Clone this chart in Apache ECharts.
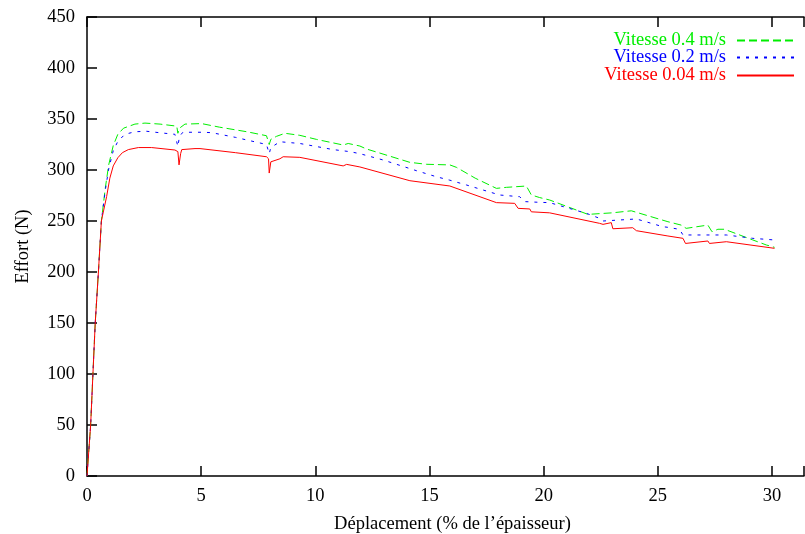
<!DOCTYPE html>
<html>
<head>
<meta charset="utf-8">
<script src="https://cdn.jsdelivr.net/npm/echarts@6/dist/echarts.min.js"></script>
<style>html,body{margin:0;padding:0;background:#fff;}#c{width:805px;height:534px;}</style>
</head>
<body>
<div id="c"></div>
<script>
// ---- data ----
const names = ['Vitesse 0.4 m/s', 'Vitesse 0.2 m/s', 'Vitesse 0.04 m/s'];
const xTicks = [0, 5, 10, 15, 20, 25, 30];
const yTicks = [0, 50, 100, 150, 200, 250, 300, 350, 400, 450];

const greenX = [0,0.16,0.26,0.36,0.5,0.63,0.8,0.95,1.15,1.35,1.6,2.1,2.54,3.2,3.93,3.98,4.05,4.29,5.02,5.8,7.0,7.86,7.98,8.05,8.3,8.67,9.32,10.05,11.22,11.44,11.95,12.24,13.2,14.14,14.87,15.89,16.18,17.0,17.93,18.37,19.24,19.46,19.82,20.26,21.94,23.0,23.84,25.08,25.44,26.02,26.24,27.19,27.37,27.63,27.92,29.16,29.75,30.11];
const greenY = [0,50,100,150,200,250,282,305,324,335,341,345,346,345,343,336,341,345,345.5,342,337.5,333.6,325,330,333,336,334,330,324.5,326,323.5,320.6,314,307.5,305.6,305,302.6,292,282,283,284.3,275.5,273,270.6,256.5,258,260,251.7,249.3,246,242.8,246,239.5,241.9,241.9,231.4,226.5,224.2];

const blueX = [0,0.16,0.26,0.36,0.5,0.63,0.8,0.95,1.15,1.35,1.66,2.1,2.6,3.2,3.85,3.98,4.05,4.2,5.09,5.46,6.5,7.86,7.98,8.05,8.45,9.32,10.78,11.51,11.95,12.97,14.43,15.3,15.89,16.62,18.07,18.95,19.17,19.82,20.26,21.87,22.45,22.6,24.06,25.22,25.44,25.95,26.1,27.26,28,29.16,30.11];
const blueY = [0,50,100,150,200,250,280,301,319,328,335,337.5,338,336.5,335,323,333,337,337,336.6,332,325,316,322,327.7,326,320,318,316,309.8,299.3,293.4,290,285.3,275.5,273.8,269,268.3,268,257.5,252.6,250,252,244.4,243.8,241.8,236.3,236.3,236.3,233,231.4];

const redX = [0,0.16,0.26,0.36,0.5,0.63,0.86,1.0,1.15,1.35,1.55,1.81,2.25,2.83,3.85,3.98,4.03,4.1,4.15,4.73,4.95,6.5,7.86,7.95,7.98,8.05,8.45,8.59,9.32,11.22,11.37,11.95,14.14,15.89,17.93,18.73,18.88,19.39,19.46,20.26,22.45,22.6,22.96,23.03,23.9,24.06,25.44,26.1,26.21,27.19,27.26,28,30.11];
const redY = [0,50,100,150,200,250,274,292,304,312,317,320,322,322,319.6,318,305,316,320,321,321,317,313,311,297,308,311,313,312.4,304,305.5,303,289.5,284.3,268,267.3,262.4,261.8,259,258,247.7,246.7,248.4,242.4,243.4,240.5,235.3,233,228,230.4,228,229.7,223.2];

const colors = ['#00ee00', '#0000ff', '#ff0000'];

// ---- chart ----
const zip = (a, b) => a.map((v, i) => [v, b[i]]);
const FONT = "'Liberation Serif', 'Times New Roman', serif";
const FS = 18.5;
const chart = echarts.init(document.getElementById('c'), null, {renderer: 'canvas'});

function legendFor(i, top) {
  return {
    data: [{name: names[i], textStyle: {color: colors[i]}}],
    right: 10, top: top, orient: 'vertical', align: 'right',
    itemWidth: 57, itemHeight: 10, itemGap: 0, padding: 0,
    itemStyle: {color: 'transparent', borderWidth: 0, opacity: 0},
    textStyle: {fontFamily: FONT, fontSize: FS, padding: [0, 6, 0, 0]},
    selectedMode: false
  };
}

const xMax = 31.4;
chart.setOption({
  animation: false,
  backgroundColor: '#fff',
  textStyle: {fontFamily: FONT},
  grid: {left: 87, right: 1, top: 17, bottom: 58, containLabel: false, outerBoundsMode: 'none'},
  legend: [legendFor(0, 31), legendFor(1, 48), legendFor(2, 66)],
  xAxis: [{
    type: 'value', min: 0, max: xMax, interval: 5,
    name: 'Déplacement (% de l’épaisseur)', nameLocation: 'middle', nameGap: 39,
    nameTextStyle: {fontFamily: FONT, fontSize: FS, color: '#000', padding: [0, 0, 0, 14]},
    axisLine: {show: true, lineStyle: {color: '#000', width: 1.5}},
    axisTick: {show: true, inside: true, length: 10, lineStyle: {color: '#000', width: 1.5}},
    axisLabel: {fontFamily: FONT, fontSize: FS, color: '#000', margin: 11,
      formatter: v => xTicks.indexOf(v) >= 0 ? String(v) : ''},
    splitLine: {show: false}
  }, {
    type: 'value', position: 'top', min: 0, max: xMax, interval: 5,
    axisLine: {show: true, onZero: false, lineStyle: {color: '#000', width: 1.5}},
    axisTick: {show: true, inside: true, length: 10, lineStyle: {color: '#000', width: 1.5}},
    axisLabel: {show: false},
    splitLine: {show: false}
  }],
  yAxis: {
    type: 'value', min: 0, max: 450, interval: 50,
    name: 'Effort (N)', nameLocation: 'middle', nameGap: 54, nameRotate: 90,
    nameTextStyle: {fontFamily: FONT, fontSize: FS, color: '#000'},
    axisLine: {show: true, lineStyle: {color: '#000', width: 1.5}},
    axisTick: {show: true, inside: true, length: 10, lineStyle: {color: '#000', width: 1.5}},
    axisLabel: {fontFamily: FONT, fontSize: FS, color: '#000', margin: 12, padding: [5, 0, 0, 0],
      formatter: v => yTicks.indexOf(v) >= 0 ? String(v) : ''},
    splitLine: {show: false}
  },
  series: [
    {name: names[0], type: 'line', symbol: 'none', data: zip(greenX, greenY),
     lineStyle: {color: colors[0], width: 1, type: [8, 4]}, itemStyle: {color: colors[0]}},
    {name: names[1], type: 'line', symbol: 'none', data: zip(blueX, blueY),
     lineStyle: {color: colors[1], width: 1, type: [3, 6]}, itemStyle: {color: colors[1]}},
    {name: names[2], type: 'line', symbol: 'none', data: zip(redX, redY),
     lineStyle: {color: colors[2], width: 1, type: 'solid'}, itemStyle: {color: colors[2]}}
  ]
});
</script>
</body>
</html>
